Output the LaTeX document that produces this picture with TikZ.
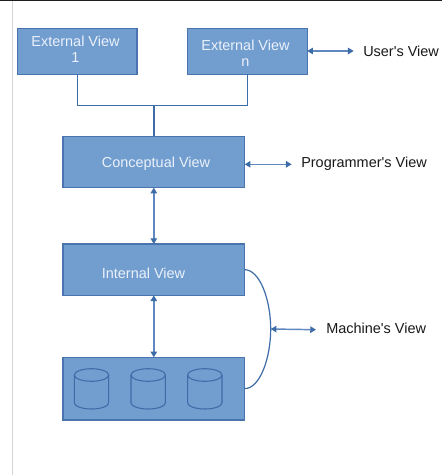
\documentclass[tikz,border=0pt]{standalone}
\usepackage{fontspec}
\setmainfont[Ligatures=TeXOff]{Liberation Sans}
\usetikzlibrary{arrows.meta}
\definecolor{boxfill}{HTML}{729DCF}
\definecolor{boxline}{HTML}{4A74B0}
\definecolor{linkblue}{HTML}{3E6CA8}
\definecolor{shaftblue}{HTML}{6088C0}
\definecolor{rulegrey}{HTML}{D4D4D4}
\definecolor{toprule}{HTML}{1E1E22}
\definecolor{cyl}{HTML}{3F6BA9}
\definecolor{boxtext}{HTML}{EAF1FA}
\tikzset{
  viewbox/.style={draw=boxline,fill=boxfill,line width=1pt,outer sep=0pt,inner sep=0pt,anchor=north west},
  viewtext/.style={text=boxtext,font=\fontsize{10.85pt}{12pt}\selectfont,align=center,inner sep=0pt},
  sidetext/.style={text=black!90,font=\fontsize{10.85pt}{12pt}\selectfont,inner sep=0pt,anchor=west},
  link/.style={draw=linkblue,line width=0.9pt},
  biarrow/.style={draw=shaftblue,line width=1.1pt,{Triangle[length=4.3pt,width=4.8pt,color=linkblue]}-{Triangle[length=4.3pt,width=4.8pt,color=linkblue]}},
  drum/.style={draw=cyl,line width=0.8pt}
}
\begin{document}
\begin{tikzpicture}[x=0.75pt,y=-0.75pt]
\useasboundingbox (0,0) rectangle (442,475);
\fill[white] (0,0) rectangle (442,475);
\fill[toprule] (0,0) rectangle (442,1);
\fill[rulegrey] (11.5,1) rectangle (13,475);
% boxes
\node[viewbox,minimum width=89.8pt,minimum height=34.5pt] (ev1) at (17.3,28.3) {};
\node[viewbox,minimum width=89.8pt,minimum height=34.5pt] (evn) at (187.5,28.3) {};
\node[viewbox,minimum width=136.3pt,minimum height=38.5pt] (conc) at (63,136.3) {};
\node[viewbox,minimum width=136.3pt,minimum height=38.5pt] (intv) at (63,244) {};
\node[viewbox,minimum width=136.3pt,minimum height=47pt] (store) at (63,357.3) {};
% box texts
\node[viewtext] (t1) at (75.5,49) {External View\\1};
\node[viewtext] (t2) at (245.5,53) {External View\\n};
\node[viewtext] (t3) at (156,164) {Conceptual View};
\node[viewtext] (t4) at (143.5,273) {Internal View};
% side labels
\node[sidetext] (l1) at (363,51) {User's View};
\node[sidetext] (l2) at (301,164) {Programmer's View};
\node[sidetext] (l3) at (326,328) {Machine's View};
% cylinders
\foreach \cx in {91.5,148.2,204.8}{
  \draw[drum] (\cx-17.2,375) -- (\cx-17.2,402.7)
     arc[start angle=180,end angle=0,x radius=17.2,y radius=6.3]
     -- (\cx+17.2,375);
  \draw[drum] (\cx,375) ellipse [x radius=17.2,y radius=6.3];
}
% tree connector
\coordinate (bus) at (153.8,105.5);
\coordinate (a1) at (77.4,74.3);
\coordinate (a2) at (247.4,74.3);
\draw[link] (a1) -- (a1 |- bus) -- (bus);
\draw[link] (a2) -- (a2 |- bus) -- (bus);
\draw[link,line width=1.2pt] (bus) -- (bus |- conc.north);
% arrows
\coordinate (e1) at (353.7,51);
\coordinate (e2) at (291.7,164.3);
\coordinate (e3) at (316,329.7);
\coordinate (m) at (270.7,329);
\draw[biarrow] (evn.east |- e1) -- (e1);
\draw[biarrow] (conc.east |- e2) -- (e2);
\draw[biarrow] (conc.south -| bus) -- (intv.north -| bus);
\draw[biarrow] (intv.south -| bus) -- (store.north -| bus);
\draw[biarrow] (m) -- (e3);
\draw[link] (intv.east) .. controls (260,270) and (270.7,300) .. (m) .. controls (270.7,358) and (260,388.5) .. (store.east);
\end{tikzpicture}
\end{document}
